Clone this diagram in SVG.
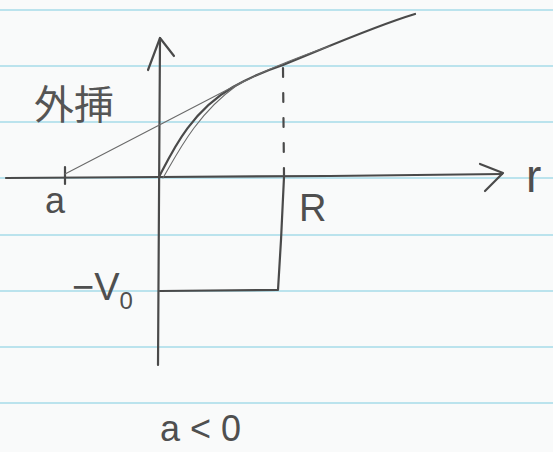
<svg xmlns="http://www.w3.org/2000/svg" width="553" height="452" viewBox="0 0 553 452">
<style>
.rule{stroke:#a6dbe9;stroke-width:1.5;fill:none}
.pen{stroke:#4a4a4a;stroke-width:2.2;fill:none;stroke-linecap:round;stroke-linejoin:round}
.thin{stroke:#6a6a6a;stroke-width:1.1;fill:none;stroke-linecap:round}
.lbl{font-family:"Liberation Sans","DejaVu Sans",sans-serif;fill:#4f4f4f;font-weight:normal}
.cjk{font-family:"Noto Sans CJK JP","Noto Sans CJK SC",sans-serif;fill:#555;font-weight:normal}
</style>
<rect x="0" y="0" width="553" height="452" fill="#f9fafa"/>
<g id="paper-lines">
<line class="rule" x1="0" y1="10" x2="553" y2="10"/>
<line class="rule" x1="0" y1="66" x2="553" y2="66"/>
<line class="rule" x1="0" y1="122" x2="553" y2="122"/>
<line class="rule" x1="0" y1="178" x2="553" y2="178"/>
<line class="rule" x1="0" y1="235" x2="553" y2="235"/>
<line class="rule" x1="0" y1="291" x2="553" y2="291"/>
<line class="rule" x1="0" y1="347" x2="553" y2="347"/>
<line class="rule" x1="0" y1="403" x2="553" y2="403"/>
</g>
<g id="axes">
<path class="pen" d="M6,178 L160,177 L330,176 L502,174"/>
<path class="pen" d="M480,164 L503,173 L485,191"/>
<path class="pen" d="M160,38 L159,200 L158,365"/>
<path class="pen" d="M148,70 L160,38 L174,56"/>
<path class="pen" d="M65,167 L65,184"/>
</g>
<g id="curve">
<path class="pen" stroke-width="2.6" d="M159,177 C172,152 190,112 233,87 C252,76 268,70 283,65 C330,46 375,26 415,14"/>
<path class="thin" d="M163,178 C178,152 197,114 236,86 C260,72 290,60 330,46"/>
</g>
<g id="extrapolation">
<path class="thin" d="M65,174 L246,80"/>
</g>
<g id="well">
<path class="pen" stroke-width="1.6" stroke-dasharray="9,16" d="M283,68 L284,175"/>
<path class="pen" d="M284,177 L281,240 L278,290 L160,291"/>
</g>
<g id="labels">
<text class="cjk" x="34" y="119" font-size="40">外挿</text>
<text class="lbl" x="45" y="213" font-size="36">a</text>
<text class="lbl" x="299" y="221" font-size="38">R</text>
<text class="lbl" x="526" y="192" font-size="46">r</text>
<text class="lbl" x="72" y="300" font-size="38">−V<tspan font-size="24" dy="9">0</tspan></text>
<text class="lbl" x="160" y="441" font-size="36">a &lt; 0</text>
</g>
</svg>
